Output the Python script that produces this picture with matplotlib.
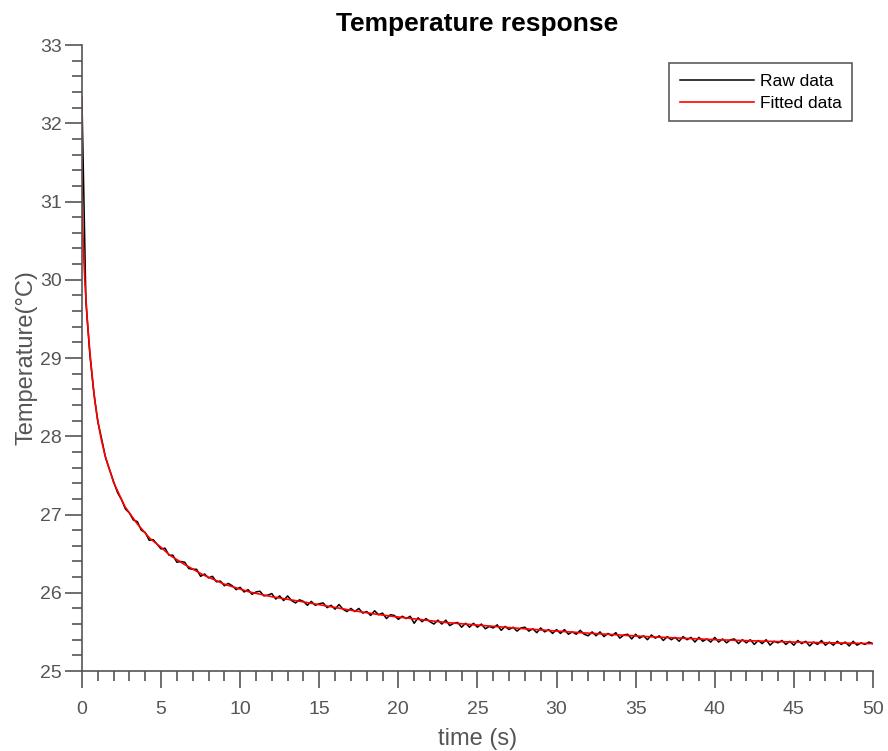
import numpy as np
import matplotlib.pyplot as plt
from matplotlib.ticker import MultipleLocator

plt.rcParams['font.family'] = ['Liberation Sans', 'DejaVu Sans']

# fitted curve
fit_t = [0, 0.02, 0.06, 0.1, 0.19, 0.35, 0.5, 0.7, 0.82, 1.0, 1.2, 1.45, 2.0, 2.72,
         3.5, 4.27, 5.0, 5.56, 6.5, 7.65, 9.0, 10.6, 12.0, 13.8, 15.5, 16.9, 18.8,
         20.0, 23.0, 27.3, 31.5, 35.7, 40.1, 45.0, 50.0]
fit_T = [32.34, 31.0, 30.6, 30.35, 29.95, 29.45, 29.08, 28.66, 28.44, 28.2, 27.98, 27.76,
         27.41, 27.10, 26.88, 26.70, 26.58, 26.48, 26.36, 26.23, 26.11, 26.01, 25.95,
         25.89, 25.83, 25.78, 25.72, 25.69, 25.62, 25.55, 25.49, 25.44, 25.40, 25.37, 25.35]

# raw measurement, one value every 0.25 s
raw_dt = 0.25
raw_T = [
    32.30, 29.72, 29.04, 28.56, 28.19, 27.96, 27.72, 27.57, 27.42, 27.28,
    27.19, 27.07, 27.02, 26.93, 26.91, 26.80, 26.77, 26.67, 26.68, 26.62,
    26.56, 26.57, 26.48, 26.48, 26.39, 26.40, 26.39, 26.31, 26.30, 26.30,
    26.21, 26.24, 26.19, 26.21, 26.14, 26.15, 26.09, 26.12, 26.09, 26.04,
    26.07, 26.01, 26.04, 25.98, 26.01, 26.02, 25.96, 25.97, 25.99, 25.92,
    25.96, 25.90, 25.96, 25.90, 25.87, 25.91, 25.89, 25.84, 25.89, 25.84,
    25.86, 25.87, 25.81, 25.84, 25.79, 25.85, 25.79, 25.76, 25.80, 25.76,
    25.80, 25.74, 25.76, 25.71, 25.77, 25.72, 25.74, 25.67, 25.72, 25.71,
    25.66, 25.70, 25.67, 25.70, 25.61, 25.68, 25.63, 25.67, 25.63, 25.60,
    25.65, 25.60, 25.65, 25.58, 25.61, 25.62, 25.56, 25.61, 25.56, 25.61,
    25.56, 25.60, 25.54, 25.57, 25.55, 25.59, 25.52, 25.57, 25.53, 25.56,
    25.51, 25.55, 25.56, 25.51, 25.54, 25.49, 25.55, 25.50, 25.53, 25.48,
    25.53, 25.48, 25.53, 25.47, 25.50, 25.47, 25.52, 25.47, 25.45, 25.50,
    25.45, 25.50, 25.44, 25.48, 25.45, 25.49, 25.42, 25.46, 25.47, 25.41,
    25.47, 25.42, 25.45, 25.40, 25.46, 25.42, 25.45, 25.39, 25.44, 25.40,
    25.43, 25.38, 25.44, 25.40, 25.43, 25.37, 25.43, 25.38, 25.41, 25.37,
    25.43, 25.37, 25.41, 25.36, 25.40, 25.41, 25.35, 25.40, 25.36, 25.40,
    25.34, 25.39, 25.35, 25.40, 25.33, 25.38, 25.36, 25.39, 25.34, 25.38,
    25.33, 25.39, 25.35, 25.38, 25.32, 25.37, 25.34, 25.39, 25.33, 25.37,
    25.33, 25.38, 25.34, 25.37, 25.32, 25.38, 25.33, 25.36, 25.34, 25.37,
    25.35,
]
raw_t = np.arange(len(raw_T)) * raw_dt

grey = '#555555'

fig = plt.figure(figsize=(8.88, 7.51), dpi=100)
ax = fig.add_axes([0.0923, 0.1065, 0.8907, 0.8335])

ax.plot(raw_t, raw_T, color='black', lw=1.1, label='Raw data')
ax.plot(fit_t, fit_T, color='#ff0000', lw=1.2, label='Fitted data')

ax.set_xlim(0, 50)
ax.set_ylim(25, 33)
ax.xaxis.set_major_locator(MultipleLocator(5))
ax.xaxis.set_minor_locator(MultipleLocator(1))
ax.yaxis.set_major_locator(MultipleLocator(1))
ax.yaxis.set_minor_locator(MultipleLocator(0.2))

for s in ['top', 'right']:
    ax.spines[s].set_visible(False)
for s in ['left', 'bottom']:
    ax.spines[s].set_color(grey)
    ax.spines[s].set_linewidth(1.2)

ax.tick_params(which='both', direction='out', colors=grey, width=1.2, labelsize=14)
ax.tick_params(which='major', length=12.5)
ax.tick_params(which='minor', length=7)
ax.tick_params(axis='y', which='major', pad=2)
ax.tick_params(axis='x', which='major', pad=9)

ax.set_title('Temperature response', fontsize=19, fontweight='bold', pad=10)
ax.set_xlabel('time (s)', fontsize=17, color=grey, labelpad=7)
ax.set_ylabel('Temperature(°C)', fontsize=17, color=grey, labelpad=2)

leg = ax.legend(loc='upper right', bbox_to_anchor=(0.9735, 0.971), fontsize=12.5,
                frameon=True, fancybox=False, handlelength=4.3, handletextpad=0.3,
                borderpad=0.6, labelspacing=0.4, borderaxespad=0)
leg.get_frame().set_edgecolor('#333333')
leg.get_frame().set_linewidth(1.2)

fig.savefig('out.png', dpi=100)
